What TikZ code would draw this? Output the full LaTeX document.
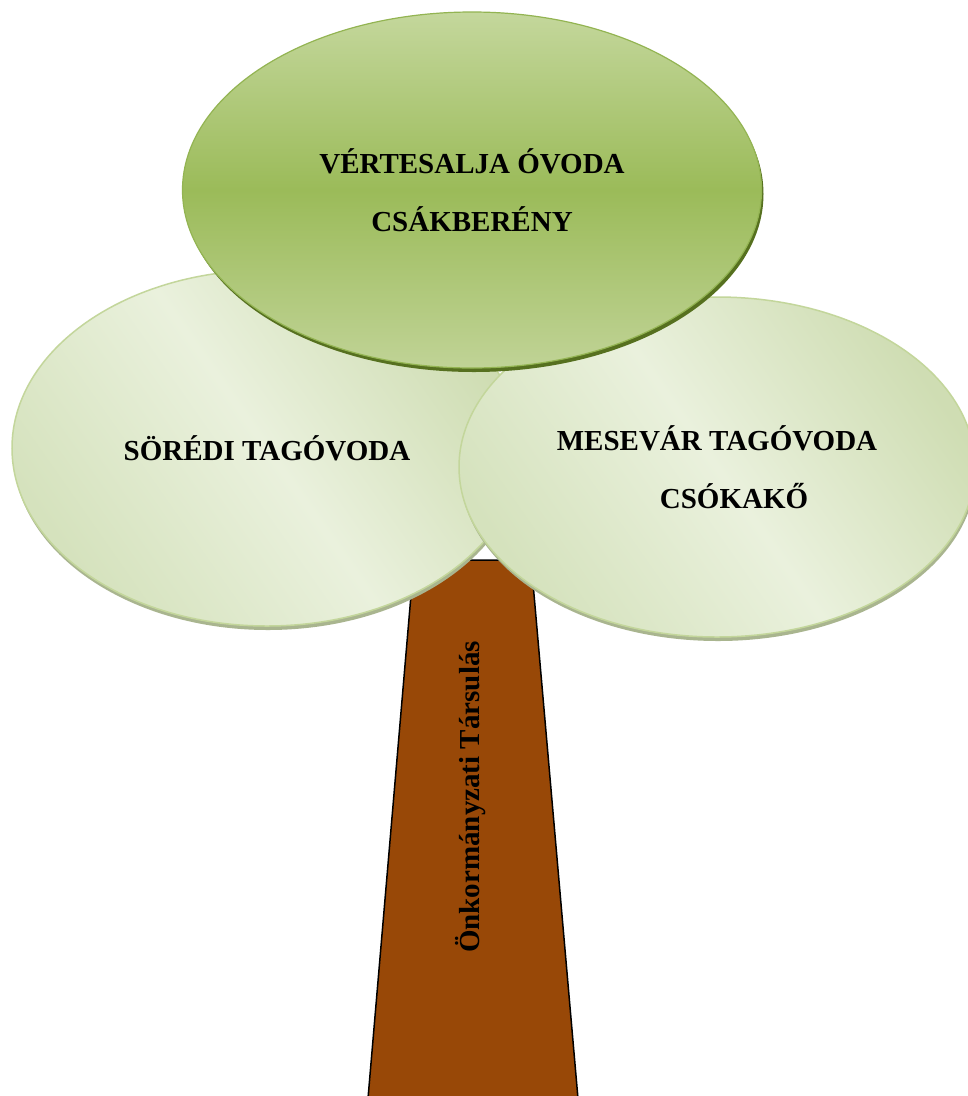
\documentclass[tikz,border=0pt]{standalone}
\usepackage{fontspec}
\setmainfont{Liberation Serif}
\usetikzlibrary{shapes.geometric,shadows}
\definecolor{trunkbrown}{HTML}{984807}
\definecolor{oliveTop}{HTML}{C4D79C}
\definecolor{oliveMid}{HTML}{9BBB59}
\definecolor{oliveBot}{HTML}{C0D396}
\definecolor{oliveEdge}{HTML}{93B452}
\definecolor{oliveShadow}{HTML}{56701F}
\definecolor{leafA}{HTML}{D5E2BD}
\definecolor{leafB}{HTML}{EAF1DD}
\definecolor{leafC}{HTML}{CFDDB3}
\definecolor{leafEdge}{HTML}{C3D69B}
\definecolor{leafShadow}{HTML}{A9B58F}
\begin{document}
\begin{tikzpicture}[x=1pt,y=-1pt,
  lbl/.style={font=\fontsize{29}{58}\selectfont\bfseries, align=center, text=black},
  leaf/.style={ellipse, inner sep=0pt, draw=leafEdge, line width=1.5pt,
     top color=leafA, bottom color=leafC, middle color=leafB, shading angle=125,
     drop shadow={shadow xshift=1pt, shadow yshift=-4pt, fill=leafShadow, opacity=1}},
  crown/.style={ellipse, inner sep=0pt, draw=oliveEdge, line width=1.2pt,
     top color=oliveTop, bottom color=oliveBot, middle color=oliveMid,
     drop shadow={shadow xshift=2pt, shadow yshift=-4pt, fill=oliveShadow, opacity=1}}]
\clip (0,0) rectangle (968,1096);
\fill[white] (0,0) rectangle (968,1096);
% trunk
\draw[fill=trunkbrown, line width=1.5pt] (414,560) -- (531,560) -- (579,1110) -- (367,1110) -- cycle;
\node[lbl, rotate=90] (trunktext) at (471,797) {Önkormányzati Társulás};
% left leaf
\node[leaf, lbl, minimum width=510pt, minimum height=356pt] (soredi) at (267,448) {SÖRÉDI TAGÓVODA};
% right leaf
\node[leaf, lbl, minimum width=516pt, minimum height=340pt] (mesevar) at (717,467)
  {MESEVÁR TAGÓVODA\\\hspace*{34pt}CSÓKAKŐ};
% top crown
\node[crown, lbl, minimum width=579pt, minimum height=356pt] (vertes) at (472,190)
  {VÉRTESALJA ÓVODA\\CSÁKBERÉNY};
\end{tikzpicture}
\end{document}
